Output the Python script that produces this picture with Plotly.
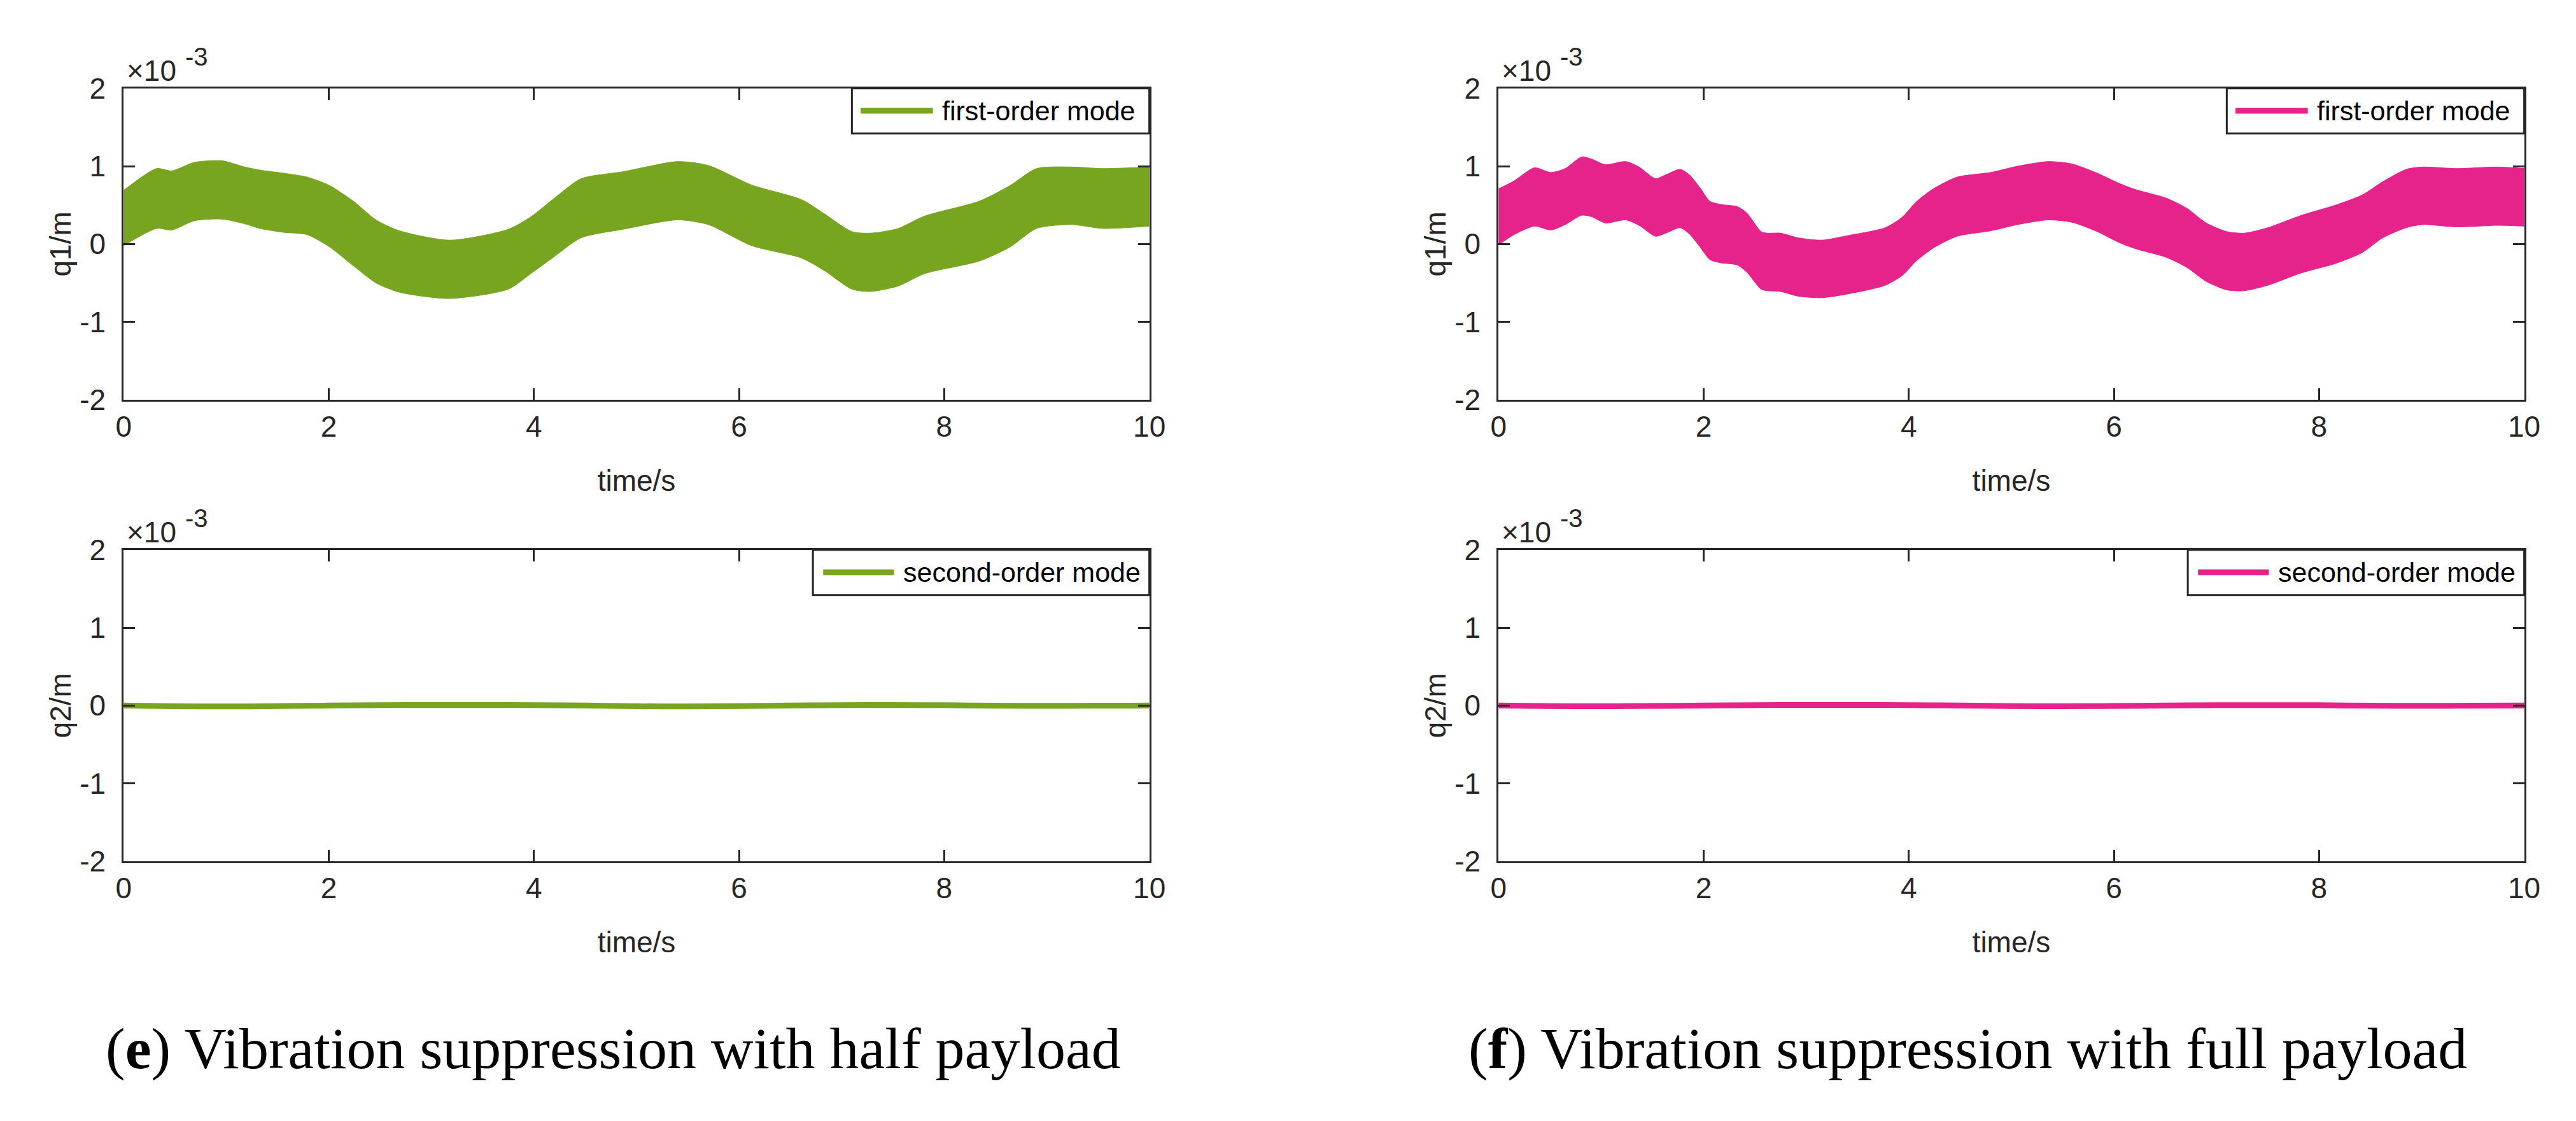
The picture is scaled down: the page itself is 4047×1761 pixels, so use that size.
import plotly.graph_objects as go

# Colours
green = '#77A520'
pink = '#E5238A'
axis_col = '#262626'

# First-order mode envelopes (x 1e-3 m), half payload (e)
t_e = [0, 0.32, 0.47, 0.69, 0.96, 1.18, 1.33, 1.56, 1.79, 2.01,
       2.24, 2.46, 2.69, 3.18, 3.75, 3.97, 4.2, 4.46, 4.87, 5.4,
       5.7, 6.12, 6.61, 6.83, 7.1, 7.28, 7.55, 7.81, 8.34, 8.64,
       8.9, 9.24, 9.55, 10]
q1_e_upper = [0.69, 0.97, 0.94, 1.05, 1.07, 0.99, 0.95, 0.91, 0.86, 0.75,
              0.55, 0.31, 0.17, 0.05, 0.19, 0.35, 0.59, 0.84, 0.93, 1.06,
              1.01, 0.76, 0.57, 0.39, 0.16, 0.14, 0.20, 0.36, 0.55, 0.75,
              0.97, 0.99, 0.97, 0.99]
q1_e_lower = [-0.02, 0.20, 0.18, 0.30, 0.32, 0.26, 0.20, 0.15, 0.12, -0.04,
              -0.28, -0.50, -0.62, -0.70, -0.58, -0.38, -0.16, 0.08, 0.19, 0.31,
              0.25, -0.02, -0.18, -0.34, -0.58, -0.61, -0.54, -0.38, -0.22, -0.04,
              0.20, 0.25, 0.20, 0.23]

# First-order mode envelopes (x 1e-3 m), full payload (f)
t_f = [0, 0.15, 0.35, 0.51, 0.65, 0.81, 0.91, 1.04, 1.24, 1.37,
       1.53, 1.63, 1.77, 1.86, 1.96, 2.06, 2.16, 2.33, 2.42, 2.56,
       2.62, 2.75, 2.92, 3.15, 3.41, 3.77, 3.94, 4.07, 4.24, 4.47,
       4.80, 5.06, 5.36, 5.59, 5.82, 6.05, 6.21, 6.51, 6.71, 6.90,
       7.10, 7.27, 7.50, 7.83, 8.16, 8.42, 8.62, 8.85, 9.01, 9.34,
       9.74, 10]
q1_f_upper = [0.71, 0.81, 0.98, 0.92, 0.97, 1.12, 1.09, 1.02, 1.06, 0.99,
              0.84, 0.89, 0.96, 0.89, 0.73, 0.55, 0.51, 0.48, 0.40, 0.16,
              0.14, 0.14, 0.08, 0.05, 0.11, 0.21, 0.35, 0.54, 0.71, 0.86,
              0.92, 1.00, 1.06, 1.03, 0.92, 0.78, 0.70, 0.59, 0.46, 0.27,
              0.16, 0.14, 0.21, 0.37, 0.50, 0.63, 0.80, 0.96, 0.99, 0.97,
              0.99, 0.97]
q1_f_lower = [-0.01, 0.12, 0.23, 0.18, 0.25, 0.37, 0.35, 0.27, 0.31, 0.24,
              0.10, 0.14, 0.21, 0.13, -0.03, -0.20, -0.24, -0.27, -0.36, -0.58,
              -0.60, -0.61, -0.67, -0.69, -0.64, -0.53, -0.40, -0.22, -0.05, 0.10,
              0.17, 0.25, 0.31, 0.28, 0.17, 0.02, -0.06, -0.17, -0.30, -0.48,
              -0.59, -0.60, -0.53, -0.37, -0.25, -0.11, 0.08, 0.21, 0.25, 0.22,
              0.24, 0.23]

# Second-order mode (x 1e-3 m)
t2 = [0, 0.5, 1, 1.5, 2, 2.5, 3, 3.5, 4, 4.5, 5, 5.5, 6, 6.5, 7, 7.5, 8, 8.5, 9, 9.5, 10]
q2_e = [0.0, -0.010, -0.012, -0.008, 0.0, 0.005, 0.006, 0.006, 0.005, 0.0, -0.010,
        -0.012, -0.008, 0.0, 0.005, 0.006, 0.004, -0.002, -0.003, -0.002, 0.0]
q2_f = [0.0, -0.008, -0.010, -0.006, 0.0, 0.005, 0.006, 0.006, 0.005, 0.0, -0.008,
        -0.010, -0.006, 0.0, 0.004, 0.005, 0.004, -0.002, -0.003, -0.002, 0.0]

# Ticks
x_ticks = [0, 2, 4, 6, 8, 10]
y_ticks = [-2, -1, 0, 1, 2]
y_ticktext = ['-2', '-1', '0', '1', '2']

captions = ['(<b>e</b>) Vibration suppression with half payload',
            '(<b>f</b>) Vibration suppression with full payload']

W, H = 4047, 1761
col_px = [(175, 1802), (2356, 3983)]
row_px = [(108, 612), (855, 1359)]

fig = go.Figure()

# Make panels: (axis index, column, row, colour, kind, x, y_a, y_b)
panels = [
    (1, 0, 0, green, 'first', t_e, q1_e_upper, q1_e_lower),
    (2, 1, 0, pink, 'first', t_f, q1_f_upper, q1_f_lower),
    (3, 0, 1, green, 'second', t2, q2_e, None),
    (4, 1, 1, pink, 'second', t2, q2_f, None),
]

font_name = 'Arial, Liberation Sans, sans-serif'
tick_font = dict(family=font_name, size=46, color=axis_col)

for idx, col, row, c, kind, t, a, b in panels:
    xa = 'x' if idx == 1 else 'x%d' % idx
    ya = 'y' if idx == 1 else 'y%d' % idx
    if kind == 'first':
        # band between lower and upper envelope
        fig.add_trace(go.Scatter(x=t, y=b, mode='lines', line=dict(color=c, width=1, shape='spline', smoothing=0.7),
                                 xaxis=xa, yaxis=ya, showlegend=False, hoverinfo='skip'))
        fig.add_trace(go.Scatter(x=t, y=a, mode='lines', line=dict(color=c, width=1, shape='spline', smoothing=0.7),
                                 fill='tonexty', fillcolor=c,
                                 xaxis=xa, yaxis=ya, showlegend=False))
        legend_text = 'first-order mode'
        ylab = 'q1/m'
        box_left, line0, line1, text_x = 0.71, 0.7185, 0.789, 0.7966
    else:
        fig.add_trace(go.Scatter(x=t, y=a, mode='lines', line=dict(color=c, width=9, shape='spline'),
                                 xaxis=xa, yaxis=ya, showlegend=False))
        legend_text = 'second-order mode'
        ylab = 'q2/m'
        box_left, line0, line1, text_x = 0.672, 0.682, 0.751, 0.759

    x0, x1 = col_px[col]
    y0, y1 = row_px[row]
    axis_common = dict(showline=True, linecolor=axis_col, linewidth=3, mirror='ticks',
                       ticks='inside', ticklen=18, tickwidth=3, tickcolor=axis_col,
                       showgrid=False, zeroline=False, tickfont=tick_font)
    fig.layout['xaxis' if idx == 1 else 'xaxis%d' % idx] = dict(
        axis_common, domain=[x0 / W, x1 / W], range=[0, 10], anchor=ya,
        tickvals=x_ticks, ticklabelstandoff=0,
        title=dict(text='time/s', font=tick_font, standoff=44))
    fig.layout['yaxis' if idx == 1 else 'yaxis%d' % idx] = dict(
        axis_common, domain=[1 - y1 / H, 1 - y0 / H], range=[-2, 2], anchor=xa,
        tickvals=y_ticks, ticktext=y_ticktext, ticklabelstandoff=16,
        title=dict(text=ylab, font=tick_font, standoff=0))

    # Exponent label
    fig.add_annotation(text='\u00d710', xref=xa + ' domain', yref=ya + ' domain',
                       x=0, y=1, xanchor='left', yanchor='bottom', yshift=0, xshift=3,
                       showarrow=False, font=tick_font)
    fig.add_annotation(text='-3', xref=xa + ' domain', yref=ya + ' domain',
                       x=0, y=1, xanchor='left', yanchor='bottom', yshift=26, xshift=95,
                       showarrow=False, font=dict(family=font_name, size=40, color=axis_col))

    # Legend box
    fig.add_shape(type='rect', xref=xa + ' domain', yref=ya + ' domain',
                  x0=box_left, x1=1, y0=0.855, y1=1,
                  line=dict(color=axis_col, width=3), fillcolor='white', layer='above')
    fig.add_shape(type='line', xref=xa + ' domain', yref=ya + ' domain',
                  x0=line0, x1=line1, y0=0.928, y1=0.928,
                  line=dict(color=c, width=9), layer='above')
    fig.add_annotation(text=legend_text, xref=xa + ' domain', yref=ya + ' domain',
                       x=text_x, y=0.928, xanchor='left', yanchor='middle', showarrow=False,
                       font=dict(family=font_name, size=43, color='black'))

# Captions
for cap, cx in zip(captions, [952, 3100]):
    fig.add_annotation(text=cap, xref='paper', yref='paper', x=cx / W, y=1 - 1662 / H,
                       xanchor='center', yanchor='middle', showarrow=False,
                       font=dict(family='Liberation Serif, serif', size=92, color='black'))

fig.update_layout(width=W, height=H, margin=dict(l=0, r=0, t=0, b=0),
                  paper_bgcolor='white', plot_bgcolor='white', showlegend=False)

fig.write_html("out.html")
